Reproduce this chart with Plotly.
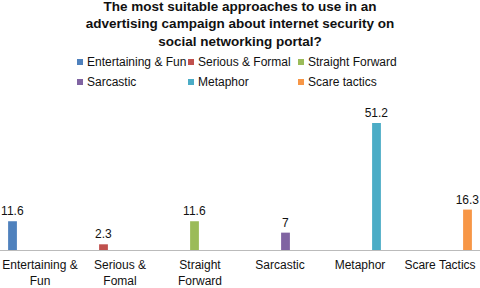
import plotly.graph_objects as go

categories = ["Entertaining &<br>Fun", "Serious &<br>Fomal", "Straight<br>Forward",
              "Sarcastic", "Metaphor", "Scare Tactics"]
series_names = ["Entertaining & Fun", "Serious & Formal", "Straight Forward",
                "Sarcastic", "Metaphor", "Scare tactics"]
values = [11.6, 2.3, 11.6, 7, 51.2, 16.3]
colors = ["#4F81BD", "#C0504D", "#9BBB59", "#8064A2", "#4BACC6", "#F79646"]

FONT = "Liberation Sans, Arial, Helvetica, sans-serif"
W, H = 480, 288
M_T, M_B = 100, 38
PLOT_H = H - M_T - M_B


def px_to_paper_y(py):
    return (H - M_B - py) / PLOT_H


fig = go.Figure()
for i, name in enumerate(series_names):
    y = [None] * len(categories)
    y[i] = values[i]
    txt = [""] * len(categories)
    txt[i] = f"{values[i]:g}"
    fig.add_trace(go.Bar(
        x=categories, y=y, name=name,
        marker=dict(color=colors[i], line=dict(width=0)),
        text=txt, textposition="outside", cliponaxis=False,
        constraintext="none", showlegend=False,
        textfont=dict(family=FONT, size=12, color="#111"),
    ))

# Legend drawn as text + small squares (3 columns x 2 rows)
leg_cols_x = [80, 191, 301]
leg_rows_y = [62, 82]
for i, name in enumerate(series_names):
    cx = leg_cols_x[i % 3]
    cy = leg_rows_y[i // 3]
    fig.add_shape(type="rect", xref="paper", yref="paper",
                  x0=(cx - 3) / W, x1=(cx + 3) / W,
                  y0=px_to_paper_y(cy + 3), y1=px_to_paper_y(cy - 3),
                  fillcolor=colors[i], line=dict(width=0), layer="above")
    fig.add_annotation(text=name, xref="paper", yref="paper",
                       x=(cx + 5) / W, y=px_to_paper_y(cy), xanchor="left", yanchor="middle",
                       showarrow=False, font=dict(family=FONT, size=12, color="#111"))

fig.update_layout(
    width=W, height=H,
    barmode="group", bargap=0.175, bargroupgap=0.2,
    margin=dict(l=0, r=0, t=M_T, b=M_B, autoexpand=False),
    paper_bgcolor="white", plot_bgcolor="white",
    font=dict(family=FONT, size=12, color="#111"),
    title=dict(
        text="The most suitable approaches to use in an<br>advertising campaign about internet security on<br>social networking portal?",
        x=0.5, xanchor="center", y=0.963, yanchor="top", yref="container",
        font=dict(family=FONT, size=13.5, color="#111", weight="bold"),
    ),
    showlegend=False,
)
fig.update_xaxes(showgrid=False, showline=True, linecolor="#BBBBBB", linewidth=1,
                 ticks="", ticklabelstandoff=4, automargin=False,
                 tickfont=dict(family=FONT, size=12, color="#111"))
fig.update_yaxes(range=[0, 60.5], showgrid=False, showticklabels=False,
                 zeroline=False, showline=False)

fig.write_html("out.html", config={"displayModeBar": False},
               post_script="document.body.style.margin='0';document.body.style.padding='0';")
